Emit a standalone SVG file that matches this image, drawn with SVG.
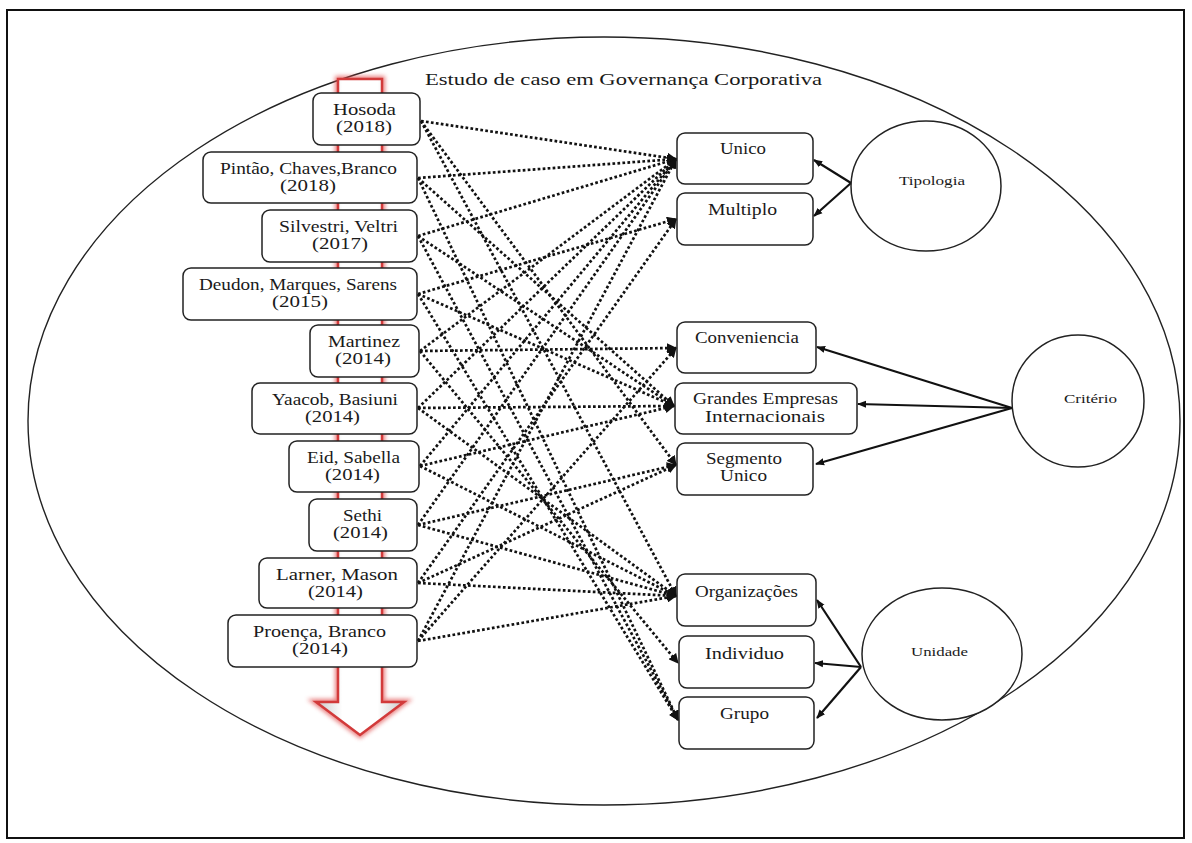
<svg xmlns="http://www.w3.org/2000/svg" width="1192" height="843" viewBox="0 0 1192 843">
<defs>
<style>
.box{fill:#fff;stroke:#222;stroke-width:1.5}
.t{font-family:"Liberation Serif","Times New Roman",serif;font-size:17px;fill:#1a1a1a}
.s{font-family:"Liberation Serif","Times New Roman",serif;font-size:13px;fill:#1a1a1a}
.dot{fill:none;stroke:#111;stroke-width:2.7;stroke-dasharray:2.7 2.3;marker-end:url(#ah)}
.sol{fill:none;stroke:#111;stroke-width:2.2;marker-end:url(#ah2)}
.circ{fill:#fff;stroke:#222;stroke-width:1.5}
</style>
<marker id="ah" markerUnits="userSpaceOnUse" viewBox="0 0 10 10" refX="9" refY="5" markerWidth="10" markerHeight="10" orient="auto">
<path d="M0,0 L10,5 L0,10 z" fill="#111"/>
</marker>
<marker id="ah2" markerUnits="userSpaceOnUse" viewBox="0 0 10 10" refX="9" refY="5" markerWidth="9" markerHeight="9" orient="auto">
<path d="M0,1 L10,5 L0,9 z" fill="#111"/>
</marker>
<linearGradient id="shaft" x1="0" y1="0" x2="1" y2="0">
<stop offset="0" stop-color="#c8c8c8"/>
<stop offset="0.3" stop-color="#fff"/>
<stop offset="0.7" stop-color="#fff"/>
<stop offset="1" stop-color="#c8c8c8"/>
</linearGradient>
<filter id="glow" x="-20%" y="-5%" width="140%" height="110%">
<feGaussianBlur stdDeviation="2.2"/>
</filter>
</defs>
<rect x="0" y="0" width="1192" height="843" fill="#fff"/>
<rect x="7" y="10" width="1177" height="828" fill="none" stroke="#111" stroke-width="2"/>
<ellipse cx="604" cy="421" rx="576" ry="384" fill="none" stroke="#222" stroke-width="1.4"/>
<text class="t" x="425" y="85" textLength="397" lengthAdjust="spacingAndGlyphs">Estudo de caso em Governança Corporativa</text>

<g id="timeline-arrow">
<polygon points="338,79 382,79 382,702 404,702 360,735 316,702 338,702" fill="none" stroke="#e04a4a" stroke-width="6" opacity="0.7" filter="url(#glow)"/>
<polygon points="338,79 382,79 382,702 404,702 360,735 316,702 338,702" fill="url(#shaft)" stroke="#d23a3a" stroke-width="2.5"/>
</g>

<g id="connectors">
<!-- Hosoda -->
<line class="dot" x1="421" y1="121" x2="676" y2="159"/>
<line class="dot" x1="421" y1="121" x2="676" y2="465"/>
<line class="dot" x1="421" y1="121" x2="676" y2="596"/>
<!-- Pintao -->
<line class="dot" x1="418" y1="178" x2="676" y2="159"/>
<line class="dot" x1="418" y1="178" x2="674" y2="406"/>
<line class="dot" x1="418" y1="178" x2="678" y2="720"/>
<!-- Silvestri -->
<line class="dot" x1="418" y1="236" x2="676" y2="159"/>
<line class="dot" x1="418" y1="236" x2="674" y2="406"/>
<line class="dot" x1="418" y1="236" x2="678" y2="720"/>
<!-- Deudon -->
<line class="dot" x1="418" y1="294" x2="676" y2="219"/>
<line class="dot" x1="418" y1="294" x2="674" y2="406"/>
<line class="dot" x1="418" y1="294" x2="678" y2="720"/>
<!-- Martinez -->
<line class="dot" x1="420" y1="351" x2="676" y2="159"/>
<line class="dot" x1="420" y1="351" x2="676" y2="348"/>
<line class="dot" x1="420" y1="351" x2="678" y2="663"/>
<!-- Yaacob -->
<line class="dot" x1="418" y1="408" x2="676" y2="159"/>
<line class="dot" x1="418" y1="408" x2="674" y2="406"/>
<line class="dot" x1="418" y1="408" x2="676" y2="596"/>
<!-- Eid -->
<line class="dot" x1="420" y1="466" x2="676" y2="159"/>
<line class="dot" x1="420" y1="466" x2="674" y2="406"/>
<line class="dot" x1="420" y1="466" x2="676" y2="596"/>
<!-- Sethi -->
<line class="dot" x1="418" y1="525" x2="676" y2="159"/>
<line class="dot" x1="418" y1="525" x2="676" y2="465"/>
<line class="dot" x1="418" y1="525" x2="676" y2="596"/>
<!-- Larner -->
<line class="dot" x1="418" y1="583" x2="676" y2="219"/>
<line class="dot" x1="418" y1="583" x2="676" y2="465"/>
<line class="dot" x1="418" y1="583" x2="676" y2="596"/>
<!-- Proenca -->
<line class="dot" x1="418" y1="641" x2="676" y2="159"/>
<line class="dot" x1="418" y1="641" x2="676" y2="348"/>
<line class="dot" x1="418" y1="641" x2="676" y2="596"/>
<!-- category arrows -->
<line class="sol" x1="851" y1="183" x2="814" y2="160"/>
<line class="sol" x1="851" y1="183" x2="814" y2="216"/>
<line class="sol" x1="1012" y1="408" x2="817" y2="347"/>
<line class="sol" x1="1012" y1="408" x2="858" y2="404"/>
<line class="sol" x1="1012" y1="408" x2="816" y2="464"/>
<line class="sol" x1="861" y1="667" x2="817" y2="600"/>
<line class="sol" x1="861" y1="667" x2="815" y2="663"/>
<line class="sol" x1="861" y1="667" x2="817" y2="718"/>
</g>

<g id="hosoda"><rect class="box" x="313" y="93" width="107" height="52" rx="8"/>
<text class="t" x="333" y="115" textLength="63" lengthAdjust="spacingAndGlyphs">Hosoda</text><text class="t" x="336" y="132" textLength="56" lengthAdjust="spacingAndGlyphs">(2018)</text></g>
<g id="pintao"><rect class="box" x="203" y="152" width="214" height="51" rx="8"/>
<text class="t" x="220" y="174" textLength="177" lengthAdjust="spacingAndGlyphs">Pintão, Chaves,Branco</text><text class="t" x="280" y="191" textLength="56" lengthAdjust="spacingAndGlyphs">(2018)</text></g>
<g id="silvestri"><rect class="box" x="262" y="210" width="155" height="52" rx="8"/>
<text class="t" x="279" y="232" textLength="119" lengthAdjust="spacingAndGlyphs">Silvestri, Veltri</text><text class="t" x="312" y="249" textLength="56" lengthAdjust="spacingAndGlyphs">(2017)</text></g>
<g id="deudon"><rect class="box" x="183" y="268" width="234" height="52" rx="8"/>
<text class="t" x="199" y="290" textLength="198" lengthAdjust="spacingAndGlyphs">Deudon, Marques, Sarens</text><text class="t" x="272" y="307" textLength="56" lengthAdjust="spacingAndGlyphs">(2015)</text></g>
<g id="martinez"><rect class="box" x="310" y="325" width="109" height="52" rx="8"/>
<text class="t" x="328" y="347" textLength="72" lengthAdjust="spacingAndGlyphs">Martinez</text><text class="t" x="335" y="364" textLength="56" lengthAdjust="spacingAndGlyphs">(2014)</text></g>
<g id="yaacob"><rect class="box" x="252" y="383" width="165" height="51" rx="8"/>
<text class="t" x="272" y="405" textLength="126" lengthAdjust="spacingAndGlyphs">Yaacob, Basiuni</text><text class="t" x="305" y="422" textLength="55" lengthAdjust="spacingAndGlyphs">(2014)</text></g>
<g id="eid"><rect class="box" x="289" y="441" width="130" height="51" rx="8"/>
<text class="t" x="307" y="463" textLength="93" lengthAdjust="spacingAndGlyphs">Eid, Sabella</text><text class="t" x="325" y="480" textLength="55" lengthAdjust="spacingAndGlyphs">(2014)</text></g>
<g id="sethi"><rect class="box" x="309" y="499" width="108" height="52" rx="8"/>
<text class="t" x="343" y="521" textLength="39" lengthAdjust="spacingAndGlyphs">Sethi</text><text class="t" x="333" y="538" textLength="55" lengthAdjust="spacingAndGlyphs">(2014)</text></g>
<g id="larner"><rect class="box" x="259" y="558" width="158" height="50" rx="8"/>
<text class="t" x="276" y="580" textLength="122" lengthAdjust="spacingAndGlyphs">Larner, Mason</text><text class="t" x="308" y="597" textLength="55" lengthAdjust="spacingAndGlyphs">(2014)</text></g>
<g id="proenca"><rect class="box" x="228" y="615" width="189" height="52" rx="8"/>
<text class="t" x="253" y="637" textLength="133" lengthAdjust="spacingAndGlyphs">Proença, Branco</text><text class="t" x="292" y="654" textLength="56" lengthAdjust="spacingAndGlyphs">(2014)</text></g>

<g id="unico"><rect class="box" x="677" y="133" width="136" height="51" rx="8"/>
<text class="t" x="720" y="154" textLength="46" lengthAdjust="spacingAndGlyphs">Unico</text></g>
<g id="multiplo"><rect class="box" x="677" y="193" width="136" height="52" rx="8"/>
<text class="t" x="708" y="215" textLength="69" lengthAdjust="spacingAndGlyphs">Multiplo</text></g>
<g id="conveniencia"><rect class="box" x="677" y="322" width="139" height="51" rx="8"/>
<text class="t" x="695" y="343" textLength="104" lengthAdjust="spacingAndGlyphs">Conveniencia</text></g>
<g id="grandes"><rect class="box" x="675" y="383" width="182" height="51" rx="8"/>
<text class="t" x="693" y="404" textLength="145" lengthAdjust="spacingAndGlyphs">Grandes Empresas</text><text class="t" x="705" y="422" textLength="120" lengthAdjust="spacingAndGlyphs">Internacionais</text></g>
<g id="segmento"><rect class="box" x="677" y="443" width="136" height="52" rx="8"/>
<text class="t" x="706" y="464" textLength="76" lengthAdjust="spacingAndGlyphs">Segmento</text><text class="t" x="720" y="481" textLength="47" lengthAdjust="spacingAndGlyphs">Unico</text></g>
<g id="organizacoes"><rect class="box" x="677" y="574" width="139" height="52" rx="8"/>
<text class="t" x="695" y="597" textLength="103" lengthAdjust="spacingAndGlyphs">Organizações</text></g>
<g id="individuo"><rect class="box" x="679" y="636" width="135" height="52" rx="8"/>
<text class="t" x="705" y="659" textLength="79" lengthAdjust="spacingAndGlyphs">Individuo</text></g>
<g id="grupo"><rect class="box" x="679" y="697" width="135" height="52" rx="8"/>
<text class="t" x="720" y="719" textLength="49" lengthAdjust="spacingAndGlyphs">Grupo</text></g>

<g id="tipologia"><ellipse class="circ" cx="926" cy="186" rx="75" ry="65"/>
<text class="s" x="899" y="185" textLength="66" lengthAdjust="spacingAndGlyphs">Tipologia</text></g>
<g id="criterio"><ellipse class="circ" cx="1078" cy="401" rx="66" ry="66"/>
<text class="s" x="1064" y="403" textLength="53" lengthAdjust="spacingAndGlyphs">Critério</text></g>
<g id="unidade"><ellipse class="circ" cx="942" cy="654" rx="80" ry="66"/>
<text class="s" x="911" y="656" textLength="57" lengthAdjust="spacingAndGlyphs">Unidade</text></g>
</svg>
